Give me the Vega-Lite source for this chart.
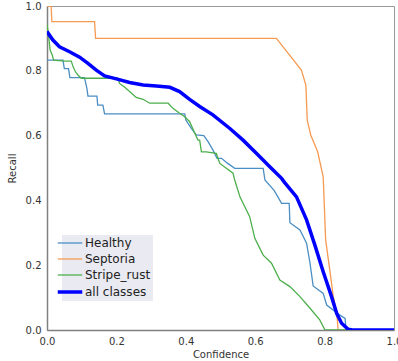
{
  "$schema": "https://vega.github.io/schema/vega-lite/v6.json",
  "width": 347,
  "height": 324,
  "autosize": {"type": "none"},
  "padding": {"left": 47, "top": 6, "right": 4, "bottom": 31},
  "config": {
    "font": "DejaVu Sans",
    "view": {"stroke": "#9a9a9a", "strokeWidth": 1},
    "axis": {
      "grid": false, "ticks": false, "domainColor": "#808080", "domainWidth": 1.5,
      "labelFontSize": 10, "labelColor": "#333333", "titleFontSize": 10,
      "titleFontWeight": "normal", "titleColor": "#333333", "labelPadding": 6,
      "labelFlush": false, "labelOverlap": false
    }
  },
  "data": {"values": [
    {"s":"Healthy","x":0,"y":0.833},{"s":"Healthy","x":0.046,"y":0.833},{"s":"Healthy","x":0.05,"y":0.807},{"s":"Healthy","x":0.062,"y":0.807},{"s":"Healthy","x":0.066,"y":0.779},{"s":"Healthy","x":0.108,"y":0.779},{"s":"Healthy","x":0.115,"y":0.746},{"s":"Healthy","x":0.118,"y":0.722},{"s":"Healthy","x":0.144,"y":0.722},{"s":"Healthy","x":0.146,"y":0.694},{"s":"Healthy","x":0.161,"y":0.694},{"s":"Healthy","x":0.166,"y":0.667},{"s":"Healthy","x":0.397,"y":0.667},{"s":"Healthy","x":0.4,"y":0.648},{"s":"Healthy","x":0.416,"y":0.622},{"s":"Healthy","x":0.43,"y":0.602},{"s":"Healthy","x":0.452,"y":0.6},{"s":"Healthy","x":0.465,"y":0.58},{"s":"Healthy","x":0.478,"y":0.556},{"s":"Healthy","x":0.49,"y":0.53},{"s":"Healthy","x":0.503,"y":0.53},{"s":"Healthy","x":0.52,"y":0.515},{"s":"Healthy","x":0.541,"y":0.499},{"s":"Healthy","x":0.623,"y":0.499},{"s":"Healthy","x":0.628,"y":0.463},{"s":"Healthy","x":0.655,"y":0.43},{"s":"Healthy","x":0.676,"y":0.391},{"s":"Healthy","x":0.698,"y":0.391},{"s":"Healthy","x":0.7,"y":0.331},{"s":"Healthy","x":0.729,"y":0.309},{"s":"Healthy","x":0.748,"y":0.268},{"s":"Healthy","x":0.758,"y":0.206},{"s":"Healthy","x":0.767,"y":0.136},{"s":"Healthy","x":0.796,"y":0.113},{"s":"Healthy","x":0.806,"y":0.077},{"s":"Healthy","x":0.844,"y":0.046},{"s":"Healthy","x":0.859,"y":0.036},{"s":"Healthy","x":0.862,"y":0},{"s":"Healthy","x":1.0,"y":0},
    {"s":"Septoria","x":0,"y":1.0},{"s":"Septoria","x":0.012,"y":1.0},{"s":"Septoria","x":0.014,"y":0.952},{"s":"Septoria","x":0.137,"y":0.952},{"s":"Septoria","x":0.14,"y":0.9},{"s":"Septoria","x":0.661,"y":0.9},{"s":"Septoria","x":0.733,"y":0.802},{"s":"Septoria","x":0.746,"y":0.756},{"s":"Septoria","x":0.75,"y":0.648},{"s":"Septoria","x":0.76,"y":0.602},{"s":"Septoria","x":0.78,"y":0.55},{"s":"Septoria","x":0.796,"y":0.473},{"s":"Septoria","x":0.803,"y":0.278},{"s":"Septoria","x":0.815,"y":0.185},{"s":"Septoria","x":0.825,"y":0.103},{"s":"Septoria","x":0.835,"y":0.052},{"s":"Septoria","x":0.839,"y":0},{"s":"Septoria","x":1.0,"y":0},
    {"s":"Stripe_rust","x":0,"y":0.944},{"s":"Stripe_rust","x":0.005,"y":0.905},{"s":"Stripe_rust","x":0.009,"y":0.864},{"s":"Stripe_rust","x":0.015,"y":0.849},{"s":"Stripe_rust","x":0.019,"y":0.833},{"s":"Stripe_rust","x":0.05,"y":0.83},{"s":"Stripe_rust","x":0.07,"y":0.83},{"s":"Stripe_rust","x":0.075,"y":0.813},{"s":"Stripe_rust","x":0.082,"y":0.797},{"s":"Stripe_rust","x":0.089,"y":0.787},{"s":"Stripe_rust","x":0.099,"y":0.777},{"s":"Stripe_rust","x":0.204,"y":0.777},{"s":"Stripe_rust","x":0.209,"y":0.761},{"s":"Stripe_rust","x":0.224,"y":0.749},{"s":"Stripe_rust","x":0.238,"y":0.736},{"s":"Stripe_rust","x":0.257,"y":0.718},{"s":"Stripe_rust","x":0.277,"y":0.712},{"s":"Stripe_rust","x":0.296,"y":0.7},{"s":"Stripe_rust","x":0.349,"y":0.7},{"s":"Stripe_rust","x":0.363,"y":0.684},{"s":"Stripe_rust","x":0.382,"y":0.669},{"s":"Stripe_rust","x":0.397,"y":0.658},{"s":"Stripe_rust","x":0.411,"y":0.643},{"s":"Stripe_rust","x":0.426,"y":0.607},{"s":"Stripe_rust","x":0.435,"y":0.586},{"s":"Stripe_rust","x":0.44,"y":0.586},{"s":"Stripe_rust","x":0.445,"y":0.55},{"s":"Stripe_rust","x":0.459,"y":0.55},{"s":"Stripe_rust","x":0.488,"y":0.545},{"s":"Stripe_rust","x":0.498,"y":0.514},{"s":"Stripe_rust","x":0.536,"y":0.484},{"s":"Stripe_rust","x":0.541,"y":0.463},{"s":"Stripe_rust","x":0.556,"y":0.411},{"s":"Stripe_rust","x":0.584,"y":0.35},{"s":"Stripe_rust","x":0.599,"y":0.283},{"s":"Stripe_rust","x":0.623,"y":0.231},{"s":"Stripe_rust","x":0.647,"y":0.206},{"s":"Stripe_rust","x":0.671,"y":0.154},{"s":"Stripe_rust","x":0.7,"y":0.134},{"s":"Stripe_rust","x":0.729,"y":0.103},{"s":"Stripe_rust","x":0.758,"y":0.067},{"s":"Stripe_rust","x":0.786,"y":0.031},{"s":"Stripe_rust","x":0.801,"y":0},{"s":"Stripe_rust","x":1.0,"y":0},
    {"s":"all classes","x":0,"y":0.921},{"s":"all classes","x":0.017,"y":0.895},{"s":"all classes","x":0.036,"y":0.874},{"s":"all classes","x":0.065,"y":0.859},{"s":"all classes","x":0.094,"y":0.842},{"s":"all classes","x":0.118,"y":0.823},{"s":"all classes","x":0.142,"y":0.802},{"s":"all classes","x":0.166,"y":0.784},{"s":"all classes","x":0.2,"y":0.775},{"s":"all classes","x":0.238,"y":0.764},{"s":"all classes","x":0.277,"y":0.756},{"s":"all classes","x":0.315,"y":0.753},{"s":"all classes","x":0.354,"y":0.749},{"s":"all classes","x":0.382,"y":0.736},{"s":"all classes","x":0.411,"y":0.712},{"s":"all classes","x":0.44,"y":0.69},{"s":"all classes","x":0.478,"y":0.664},{"s":"all classes","x":0.527,"y":0.622},{"s":"all classes","x":0.565,"y":0.586},{"s":"all classes","x":0.604,"y":0.545},{"s":"all classes","x":0.642,"y":0.504},{"s":"all classes","x":0.676,"y":0.468},{"s":"all classes","x":0.685,"y":0.455},{"s":"all classes","x":0.719,"y":0.411},{"s":"all classes","x":0.748,"y":0.34},{"s":"all classes","x":0.772,"y":0.262},{"s":"all classes","x":0.796,"y":0.18},{"s":"all classes","x":0.82,"y":0.103},{"s":"all classes","x":0.835,"y":0.051},{"s":"all classes","x":0.849,"y":0.021},{"s":"all classes","x":0.868,"y":0.002},{"s":"all classes","x":0.88,"y":0},{"s":"all classes","x":1.0,"y":0}
  ]},
  "mark": {"type": "line", "clip": true},
  "encoding": {
    "x": {"field": "x", "type": "quantitative", "scale": {"domain": [0, 1], "nice": false}, "axis": {"title": "Confidence", "values": [0, 0.2, 0.4, 0.6, 0.8, 1.0], "format": ".1f", "titlePadding": 3}},
    "y": {"field": "y", "type": "quantitative", "scale": {"domain": [0, 1], "nice": false}, "axis": {"title": "Recall", "values": [0, 0.2, 0.4, 0.6, 0.8, 1.0], "format": ".1f", "titlePadding": 8}},
    "color": {"field": "s", "type": "nominal", "title": null,
      "scale": {"domain": ["Healthy", "Septoria", "Stripe_rust", "all classes"], "range": ["#4a8ec4", "#f79a52", "#4caf4c", "#0000ff"]},
      "legend": {"orient": "none", "legendX": 15, "legendY": 229, "fillColor": "#eaeaf2", "padding": 2, "labelFontSize": 12, "labelColor": "#222222", "symbolType": "stroke", "symbolSize": 600, "labelOffset": 9, "rowPadding": 4, "labelLimit": 200,
        "encode": {"symbols": {"update": {"strokeWidth": {"signal": "datum.value === 'all classes' ? 3.5 : 1.3"}}}}}},
    "strokeWidth": {"condition": {"test": "datum.s === 'all classes'", "value": 3.5}, "value": 1.3}
  }
}
